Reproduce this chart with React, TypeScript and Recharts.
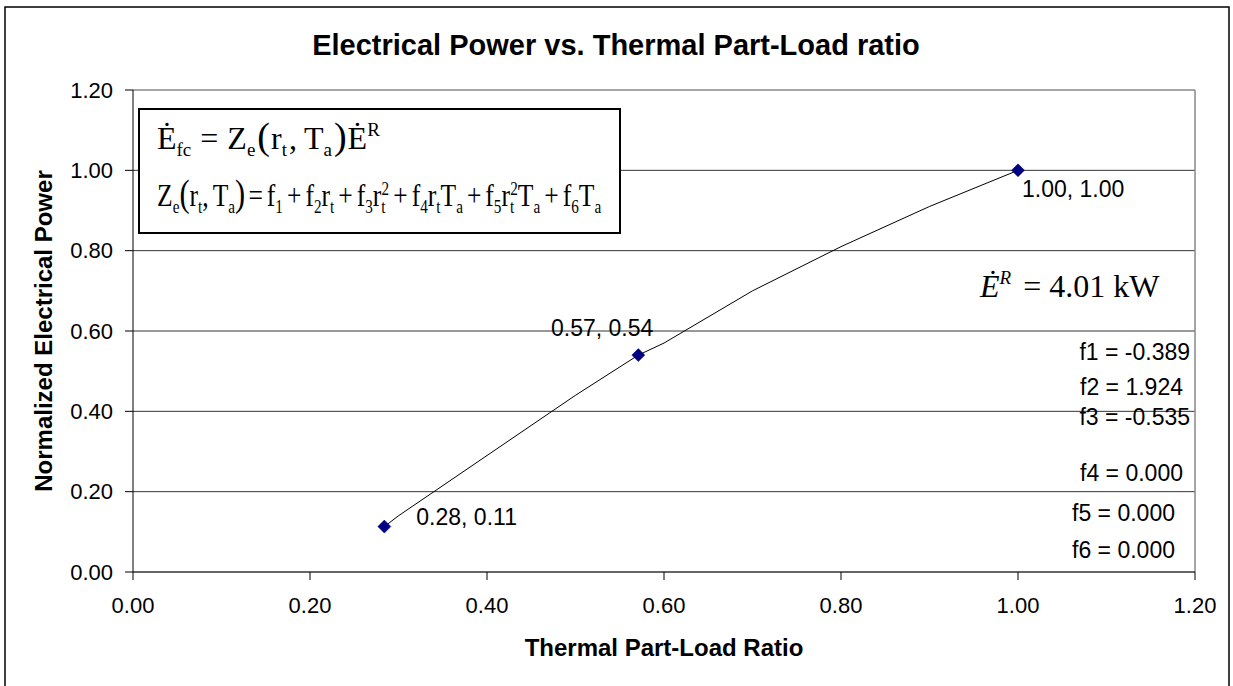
import React from 'react';
import { ScatterChart, Scatter, XAxis, YAxis, ReferenceLine } from 'recharts';

const xTicks = [0, 0.2, 0.4, 0.6, 0.8, 1.0, 1.2];
const yTicks = [0, 0.2, 0.4, 0.6, 0.8, 1.0, 1.2];
const gridLevels = [0.2, 0.4, 0.6, 0.8, 1.0];
const measuredRatio = [0.284, 0.571, 1.0];
const measuredPower = [0.113, 0.54, 1.0];
const pointLabels = ['0.28, 0.11', '0.57, 0.54', '1.00, 1.00'];
const curveRatio = [0.284, 0.3, 0.4, 0.5, 0.571, 0.6, 0.7, 0.8, 0.9, 1.0];
const curvePower = [0.113, 0.14, 0.29, 0.44, 0.54, 0.57, 0.7, 0.81, 0.91, 1.0];
const coefficientLabels = ['f1 = -0.389', 'f2 = 1.924', 'f3 = -0.535', 'f4 = 0.000', 'f5 = 0.000', 'f6 = 0.000'];
const titleText = 'Electrical Power vs. Thermal Part-Load ratio';
const xTitle = 'Thermal Part-Load Ratio';
const yTitle = 'Normalized Electrical Power';
const ratedPowerText = '= 4.01 kW';

const SANS = '"Liberation Sans", Arial, sans-serif';
const SERIF = '"Liberation Serif", "Times New Roman", serif';

const measuredData = measuredRatio.map((x, i) => ({ x, y: measuredPower[i], label: pointLabels[i], idx: i }));
const curveData = curveRatio.map((x, i) => ({ x, y: curvePower[i] }));

const labelPlacement = [
  { dx: 32, dy: -2, anchor: 'start' },
  { dx: 15, dy: -19, anchor: 'end' },
  { dx: 4, dy: 27, anchor: 'start' },
];

const coefPlacement = [
  [1190, 360],
  [1183, 395],
  [1190, 425],
  [1183, 481],
  [1175, 521],
  [1175, 558],
];

const DiamondWithLabel = (props: any) => {
  const { cx, cy, payload } = props;
  const h = 6.5;
  const p = labelPlacement[payload.idx];
  return (
    <g>
      <polygon
        points={`${cx},${cy - h} ${cx + h},${cy} ${cx},${cy + h} ${cx - h},${cy}`}
        fill="#000080"
        stroke="#000080"
        strokeWidth={0.5}
      />
      <text x={cx + p.dx} y={cy + p.dy} textAnchor={p.anchor} fontFamily={SANS} fontSize={23} fill="#000">
        {payload.label}
      </text>
    </g>
  );
};

export default function App() {
  const sub = 19;
  const par = 38;
  return (
    <div style={{ position: 'fixed', left: 0, top: 0, width: 1233, height: 686, background: '#fff' }}>
      <ScatterChart width={1233} height={686} margin={{ top: 90, right: 38, bottom: 54, left: 53 }}>
        <XAxis
          type="number"
          dataKey="x"
          domain={[0, 1.2]}
          ticks={xTicks}
          tickFormatter={(v: number) => v.toFixed(2)}
          tick={{ fontSize: 22, fill: '#000', fontFamily: SANS }}
          tickLine={{ stroke: '#000' }}
          tickSize={8}
          tickMargin={17}
          axisLine={{ stroke: '#333', strokeWidth: 1.5 }}
          height={60}
          allowDataOverflow
          label={{ value: xTitle, position: 'bottom', offset: 7, style: { fontSize: 24, fontWeight: 'bold', fontFamily: SANS, fill: '#000' } }}
        />
        <YAxis
          type="number"
          dataKey="y"
          domain={[0, 1.2]}
          ticks={yTicks}
          tickFormatter={(v: number) => v.toFixed(2)}
          tick={{ fontSize: 22, fill: '#000', fontFamily: SANS }}
          tickLine={{ stroke: '#000' }}
          tickSize={8}
          tickMargin={12}
          axisLine={{ stroke: '#000', strokeWidth: 1 }}
          width={80}
          allowDataOverflow
          label={{ value: yTitle, angle: -90, position: 'left', offset: 10, style: { textAnchor: 'middle', fontSize: 24, fontWeight: 'bold', fontFamily: SANS, fill: '#000' } }}
        />
        {gridLevels.map((v) => (
          <ReferenceLine key={v} y={v} stroke="#333" strokeWidth={1} />
        ))}
        <ReferenceLine y={1.2} stroke="#888" strokeWidth={1.5} />
        <ReferenceLine x={1.2} stroke="#888" strokeWidth={1.5} />
        <Scatter
          data={curveData}
          line={{ stroke: '#000', strokeWidth: 1 }}
          shape={() => <g />}
          isAnimationActive={false}
        />
        <Scatter data={measuredData} shape={DiamondWithLabel} isAnimationActive={false} />
      </ScatterChart>
      <svg width={1233} height={686} style={{ position: 'absolute', left: 0, top: 0, pointerEvents: 'none' }}>
        <rect x={5} y={7} width={1224} height={700} fill="none" stroke="#000" strokeWidth={1.5} />
        <text x={616} y={55} textAnchor="middle" fontFamily={SANS} fontWeight="bold" fontSize={29} fill="#000">
          {titleText}
        </text>
        <rect x={139} y={109} width={481} height={124} fill="#fff" stroke="#000" strokeWidth={2} />
        <text x={157} y={149} fontFamily={SERIF} fontSize={32} fill="#000">
          <tspan>{'\u0116'}</tspan>
          <tspan fontSize={sub} dy={7}>fc</tspan>
          <tspan dy={-7} dx={9}>=</tspan>
          <tspan dx={9}>Z</tspan>
          <tspan fontSize={sub} dy={7}>e</tspan>
          <tspan dy={-7} fontSize={par} dx={2}>(</tspan>
          <tspan dx={1}>r</tspan>
          <tspan fontSize={sub} dy={7}>t</tspan>
          <tspan dy={-7} dx={2}>,</tspan>
          <tspan dx={7}>T</tspan>
          <tspan fontSize={sub} dy={7}>a</tspan>
          <tspan dy={-7} fontSize={par} dx={2}>)</tspan>
          <tspan dx={1}>{'\u0116'}</tspan>
          <tspan fontSize={sub} dy={-13}>R</tspan>
        </text>
        <g transform="translate(157 0) scale(0.8 1)">
          <text x={0} y={206} fontFamily={SERIF} fontSize={32} fill="#000">
            <tspan>Z</tspan>
            <tspan fontSize={sub} dy={7}>e</tspan>
            <tspan dy={-7} fontSize={par}>(</tspan>
            <tspan>r</tspan>
            <tspan fontSize={sub} dy={7}>t</tspan>
            <tspan dy={-7}>,</tspan>
            <tspan dx={5}>T</tspan>
            <tspan fontSize={sub} dy={7}>a</tspan>
            <tspan dy={-7} fontSize={par}>)</tspan>
            <tspan dx={4}>=</tspan>
            <tspan dx={5}>f</tspan>
            <tspan fontSize={sub} dy={7}>1</tspan>
            <tspan dy={-7} dx={5}>+</tspan>
            <tspan dx={5}>f</tspan>
            <tspan fontSize={sub} dy={7}>2</tspan>
            <tspan dy={-7}>r</tspan>
            <tspan fontSize={sub} dy={7}>t</tspan>
            <tspan dy={-7} dx={5}>+</tspan>
            <tspan dx={5}>f</tspan>
            <tspan fontSize={sub} dy={7}>3</tspan>
            <tspan dy={-7}>r</tspan>
            <tspan fontSize={sub} dy={7}>t</tspan>
            <tspan fontSize={sub} dy={-18} dx={-5}>2</tspan>
            <tspan dy={11} dx={5}>+</tspan>
            <tspan dx={5}>f</tspan>
            <tspan fontSize={sub} dy={7}>4</tspan>
            <tspan dy={-7}>r</tspan>
            <tspan fontSize={sub} dy={7}>t</tspan>
            <tspan dy={-7}>T</tspan>
            <tspan fontSize={sub} dy={7}>a</tspan>
            <tspan dy={-7} dx={5}>+</tspan>
            <tspan dx={5}>f</tspan>
            <tspan fontSize={sub} dy={7}>5</tspan>
            <tspan dy={-7}>r</tspan>
            <tspan fontSize={sub} dy={7}>t</tspan>
            <tspan fontSize={sub} dy={-18} dx={-5}>2</tspan>
            <tspan dy={11}>T</tspan>
            <tspan fontSize={sub} dy={7}>a</tspan>
            <tspan dy={-7} dx={5}>+</tspan>
            <tspan dx={5}>f</tspan>
            <tspan fontSize={sub} dy={7}>6</tspan>
            <tspan dy={-7}>T</tspan>
            <tspan fontSize={sub} dy={7}>a</tspan>
          </text>
        </g>
        <text x={980} y={297} fontFamily={SERIF} fontSize={32} fill="#000">
          <tspan fontStyle="italic">{'\u0116'}</tspan>
          <tspan fontStyle="italic" fontSize={sub} dy={-13}>R</tspan>
          <tspan dy={13} dx={12}>{ratedPowerText}</tspan>
        </text>
        {coefficientLabels.map((t, i) => (
          <text key={t} x={coefPlacement[i][0]} y={coefPlacement[i][1]} textAnchor="end" fontFamily={SANS} fontSize={23} fill="#000">
            {t}
          </text>
        ))}
      </svg>
    </div>
  );
}
